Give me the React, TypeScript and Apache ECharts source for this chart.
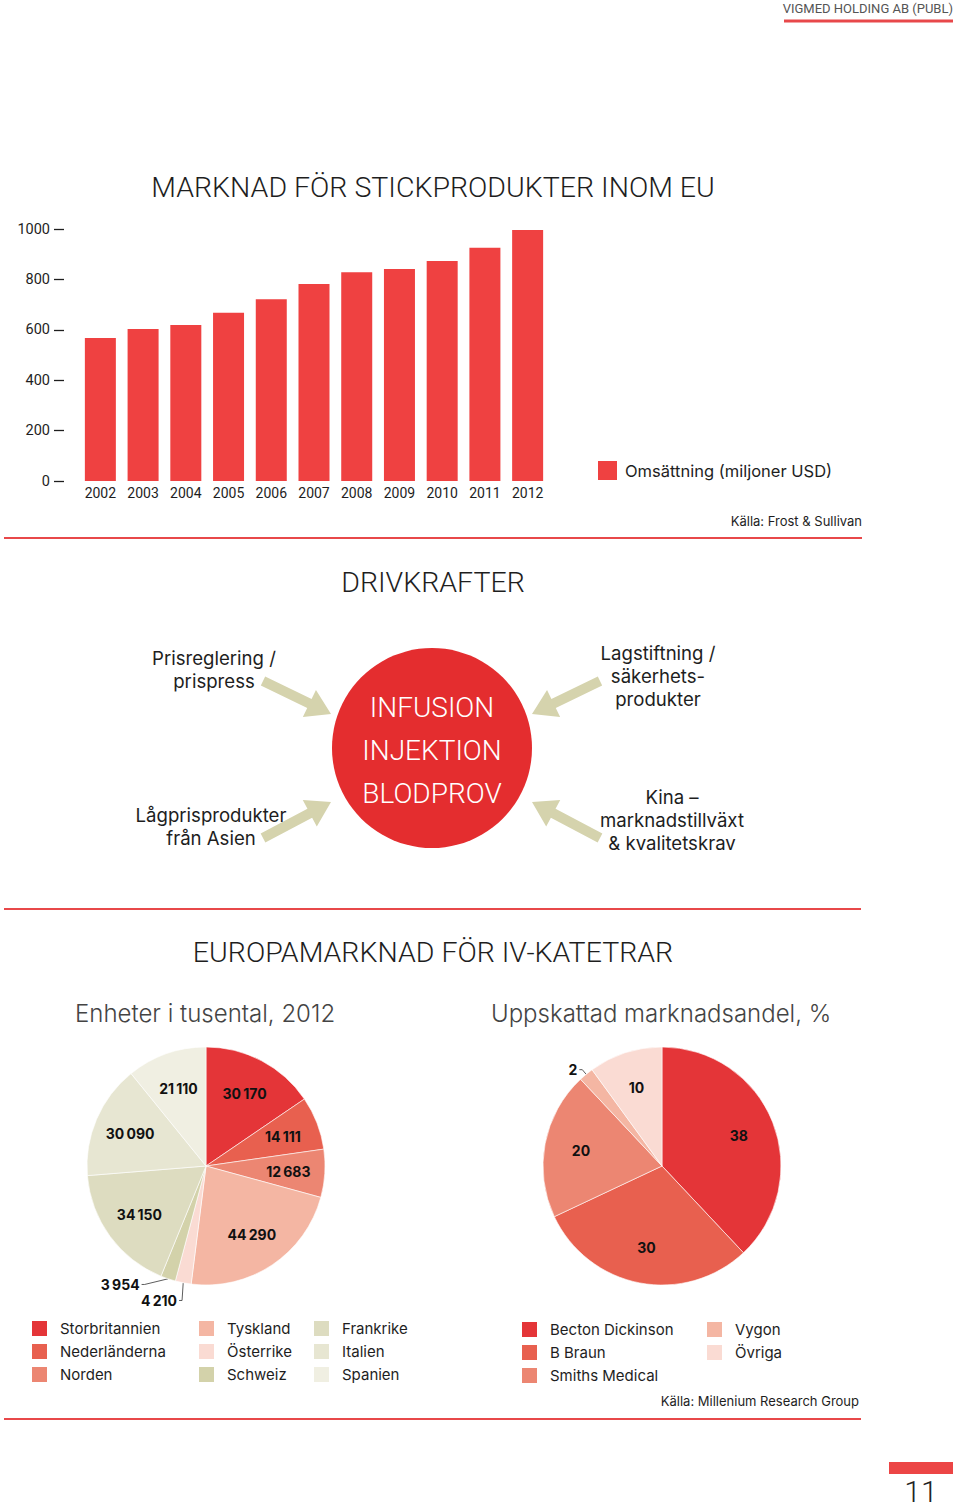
import React, { useEffect, useRef } from 'react';
import * as echarts from 'echarts';

// ---------- Data ----------
const years = ['2002', '2003', '2004', '2005', '2006', '2007', '2008', '2009', '2010', '2011', '2012'];
const revenue = [567, 603, 619, 668, 721, 782, 828, 841, 873, 926, 996];
const revenueName = 'Omsättning (miljoner USD)';
const yMin = 0;
const yMax = 1000;
const yInterval = 200;

const unitCountries = ['Storbritannien', 'Nederländerna', 'Norden', 'Tyskland', 'Österrike', 'Schweiz', 'Frankrike', 'Italien', 'Spanien'];
const unitValues = [30170, 14111, 12683, 44290, 4210, 3954, 34150, 30090, 21110];
const unitColors = ['#e43538', '#e8604f', '#ec8672', '#f4b6a3', '#fadbd3', '#d3d2aa', '#dddcc0', '#e7e6d2', '#f0efe2'];
const unitOutside = ['Österrike', 'Schweiz'];

const shareCompanies = ['Becton Dickinson', 'B Braun', 'Smiths Medical', 'Vygon', 'Övriga'];
const shareValues = [38, 30, 20, 2, 10];
const shareColors = ['#e43538', '#e8604f', '#ec8672', '#f4b6a3', '#fadbd3'];
const shareOutside = ['Vygon'];

const drivers = [
  { text: 'Prisreglering /\nprispress', pos: [214, 669] },
  { text: 'Lågprisprodukter\nfrån Asien', pos: [211, 826] },
  { text: 'Lagstiftning /\nsäkerhets-\nprodukter', pos: [658, 676] },
  { text: 'Kina –\nmarknadstillväxt\n& kvalitetskrav', pos: [672, 820] },
];
const coreAreas = ['INFUSION', 'INJEKTION', 'BLODPROV'];

const HEAD = 'Roboto, "Noto Sans", sans-serif';
const BODY = 'Inter, "Noto Sans", sans-serif';
const INK = '#1e1e1e';
const RED = '#e8484a';
const ARROW = '#d5d3ad';

function fmt(v: number) {
  return String(v).replace(/\B(?=(\d{3})+(?!\d))/g, '\u2009');
}

function arrowPoints(tail: number[], tip: number[], shaft = 10, headW = 30, headL = 24) {
  const dx = tip[0] - tail[0];
  const dy = tip[1] - tail[1];
  const L = Math.hypot(dx, dy);
  const ux = dx / L, uy = dy / L;
  const px = -uy, py = ux;
  const bx = tip[0] - ux * headL, by = tip[1] - uy * headL;
  return [
    [tail[0] + px * shaft / 2, tail[1] + py * shaft / 2],
    [bx + px * shaft / 2, by + py * shaft / 2],
    [bx + px * headW / 2, by + py * headW / 2],
    [tip[0], tip[1]],
    [bx - px * headW / 2, by - py * headW / 2],
    [bx - px * shaft / 2, by - py * shaft / 2],
    [tail[0] - px * shaft / 2, tail[1] - py * shaft / 2],
  ];
}

function pieSeries(names: string[], values: number[], colors: string[], outside: string[], center: number[]) {
  const base = {
    type: 'pie',
    center,
    radius: 119,
    startAngle: 90,
    clockwise: true,
    silent: true,
    label: { show: false },
    labelLine: { show: false },
    itemStyle: { borderColor: '#ffffff', borderWidth: 0.6 },
    data: names.map((n, i) => ({ name: n, value: values[i], itemStyle: { color: colors[i] } })),
  };
  const overlay = {
    type: 'pie',
    center,
    radius: [40, 119],
    startAngle: 90,
    clockwise: true,
    silent: true,
    itemStyle: { color: 'rgba(0,0,0,0)' },
    label: {
      show: true,
      position: 'inside',
      formatter: (p: any) => fmt(p.value),
      fontFamily: BODY,
      fontSize: 14,
      fontWeight: 'bold',
      letterSpacing: -0.6,
      color: '#111',
    },
    labelLine: { show: false },
    data: names.map((n, i) => {
      const out = outside.indexOf(n) >= 0;
      return {
        name: n,
        value: values[i],
        itemStyle: { color: 'rgba(0,0,0,0)' },
        label: out ? { position: 'outside', distanceToLabelLine: 2 } : undefined,
        labelLine: out
          ? { show: true, length: 6, length2: 3, lineStyle: { color: '#333', width: 0.8 } }
          : { show: false },
      };
    }),
  };
  return [base, overlay];
}

function legendCol(names: string[], left: number, top: number) {
  return {
    data: names,
    orient: 'vertical',
    left,
    top,
    padding: 0,
    icon: 'rect',
    itemWidth: 17,
    itemHeight: 17,
    itemGap: 4,
    selectedMode: false,
    textStyle: { fontFamily: BODY, fontSize: 15, color: INK, padding: [0, 0, 0, 7] },
  };
}

export default function App() {
  const ref = useRef<HTMLDivElement>(null);

  useEffect(() => {
    document.body.style.margin = '0';
    if (!ref.current) return;
    const chart = echarts.init(ref.current, undefined, { renderer: 'svg' });

    const graphics: any[] = [];
    const text = (t: string, x: number, y: number, size: number, opts: any = {}) =>
      graphics.push({
        type: 'text',
        x,
        y,
        silent: true,
        style: {
          text: t,
          fontSize: size,
          fontFamily: opts.family || BODY,
          fontWeight: opts.weight || 'normal',
          fill: opts.fill || INK,
          textAlign: opts.align || 'left',
          textVerticalAlign: 'middle',
          lineHeight: opts.lineHeight,
        },
      });
    const hline = (x1: number, x2: number, y: number, w = 2) =>
      graphics.push({ type: 'line', silent: true, shape: { x1, y1: y, x2, y2: y }, style: { stroke: RED, lineWidth: w } });

    // header
    text('VIGMED HOLDING AB (PUBL)', 953, 8, 13, { align: 'right', fill: '#555', family: HEAD });
    hline(784, 953, 21, 3);

    // section 1
    text('MARKNAD FÖR STICKPRODUKTER INOM EU', 433, 187, 28.5, { align: 'center', family: HEAD, weight: 300 });
    text('Källa: Frost & Sullivan', 862, 521, 13, { align: 'right' });
    hline(4, 862, 538);

    // section 2
    text('DRIVKRAFTER', 433, 582, 28.5, { align: 'center', family: HEAD, weight: 300 });
    graphics.push({ type: 'circle', silent: true, shape: { cx: 432, cy: 748, r: 100 }, style: { fill: '#e42d2f' } });
    coreAreas.forEach((a, i) => text(a, 432, 707 + i * 43, 28, { align: 'center', family: HEAD, weight: 300, fill: '#ffffff' }));
    const arrows = [
      [[263, 681], [331, 714]],
      [[263, 838], [331, 802]],
      [[600, 681], [532, 714]],
      [[600, 838], [532, 802]],
    ];
    arrows.forEach(([a, b]) =>
      graphics.push({ type: 'polygon', silent: true, shape: { points: arrowPoints(a, b) }, style: { fill: ARROW } })
    );
    drivers.forEach((d) => text(d.text, d.pos[0], d.pos[1], 18.6, { align: 'center', lineHeight: 23 }));
    hline(4, 861, 909);

    // section 3
    text('EUROPAMARKNAD FÖR IV-KATETRAR', 433, 952, 28.5, { align: 'center', family: HEAD, weight: 300 });
    text('Enheter i tusental, 2012', 75, 1013, 24, { fill: '#444', weight: 300 });
    text('Uppskattad marknadsandel, %', 491, 1013, 24, { fill: '#444', weight: 300 });
    text('Källa: Millenium Research Group', 859, 1401, 13, { align: 'right' });
    hline(4, 861, 1419);

    // page number
    graphics.push({ type: 'rect', silent: true, shape: { x: 889, y: 1462, width: 64, height: 12 }, style: { fill: '#ec4545' } });
    text('11', 921, 1491, 30, { align: 'center', family: HEAD, weight: 300, fill: '#222' });

    chart.setOption({
      animation: false,
      grid: [{ left: 79, top: 229, width: 470, height: 252 }],
      xAxis: [
        {
          type: 'category',
          data: years,
          gridIndex: 0,
          axisLine: { show: false },
          axisTick: { show: false },
          axisLabel: { interval: 0, margin: 5, fontSize: 14, color: INK, fontFamily: HEAD },
        },
      ],
      yAxis: [
        {
          type: 'value',
          gridIndex: 0,
          min: yMin,
          max: yMax,
          interval: yInterval,
          offset: 15,
          axisLine: { show: false },
          axisTick: { show: true, length: 10, lineStyle: { color: INK, width: 1.3 } },
          splitLine: { show: false },
          axisLabel: {
            margin: 14,
            fontSize: 14.5,
            color: INK,
            fontFamily: HEAD,
            formatter: (v: number) => String(v),
          },
        },
      ],
      legend: [
        {
          data: [revenueName],
          left: 598,
          top: 461,
          padding: 0,
          icon: 'rect',
          itemWidth: 19,
          itemHeight: 19,
          selectedMode: false,
          textStyle: { fontFamily: BODY, fontSize: 16.5, color: INK, padding: [0, 0, 0, 3] },
        },
        legendCol(unitCountries.slice(0, 3), 30, 1319),
        legendCol(unitCountries.slice(3, 6), 197, 1319),
        legendCol(unitCountries.slice(6, 9), 312, 1319),
        legendCol(shareCompanies.slice(0, 3), 520, 1320),
        legendCol(shareCompanies.slice(3, 5), 705, 1320),
      ],
      series: [
        {
          type: 'bar',
          name: revenueName,
          data: revenue,
          barWidth: 31,
          silent: true,
          itemStyle: { color: '#ef4141' },
        },
        ...pieSeries(unitCountries, unitValues, unitColors, unitOutside, [206, 1166]),
        ...pieSeries(shareCompanies, shareValues, shareColors, shareOutside, [662, 1166]),
      ],
      graphic: graphics,
    } as any);

    return () => chart.dispose();
  }, []);

  return <div ref={ref} style={{ width: 960, height: 1508 }} />;
}
